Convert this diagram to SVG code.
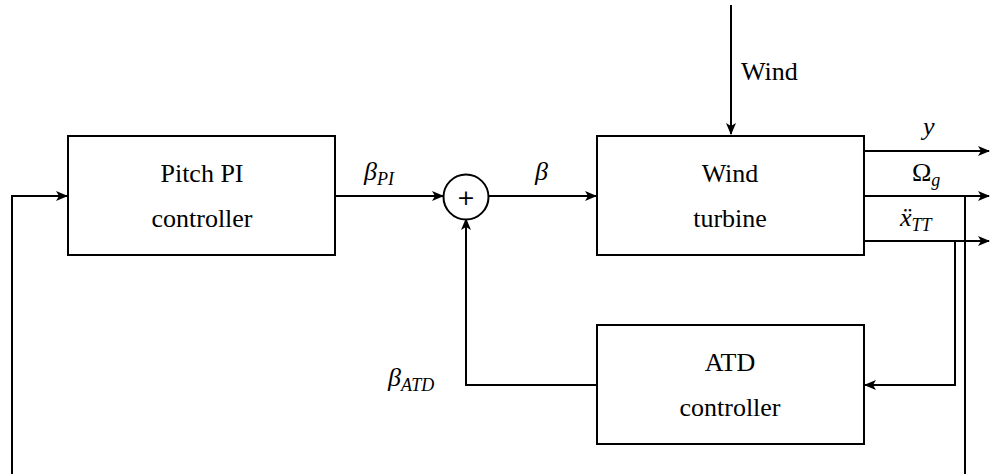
<svg xmlns="http://www.w3.org/2000/svg" width="990" height="474" viewBox="0 0 990 474">
<style>
text{font-family:"Liberation Serif","Times New Roman","DejaVu Serif",serif}
.box{fill:#fff;stroke:#000;stroke-width:2}
.ln{fill:none;stroke:#000;stroke-width:2}
.t{font-size:26px;fill:#000;text-anchor:middle}
.m{font-style:italic;font-size:26px;fill:#000}
.s{font-size:18px}
.plus{font-family:"DejaVu Sans",sans-serif;font-size:22px;text-anchor:middle}
</style>
<defs>
<marker id="ah" viewBox="0 0 12 10" refX="11" refY="5" markerWidth="12" markerHeight="10" markerUnits="userSpaceOnUse" orient="auto">
<path d="M0,0 L12,5 L0,10 L3,5 Z" fill="#000"/>
</marker>
</defs>
<rect width="990" height="474" fill="#fff"/>
<g id="connectors">
<path class="ln" d="M731,5 V134" marker-end="url(#ah)"/>
<path class="ln" d="M336,196 H443" marker-end="url(#ah)"/>
<path class="ln" d="M489,196 H596" marker-end="url(#ah)"/>
<path class="ln" d="M864,151 H989" marker-end="url(#ah)"/>
<path class="ln" d="M864,196 H989" marker-end="url(#ah)"/>
<path class="ln" d="M864,241 H989" marker-end="url(#ah)"/>
<path class="ln" d="M955,241 V385 H865" marker-end="url(#ah)"/>
<path class="ln" d="M597,385 H466 V219" marker-end="url(#ah)"/>
<path class="ln" d="M965,196 V490 H12 V196 H67" marker-end="url(#ah)"/>
</g>
<g id="pitch">
<rect class="box" x="68" y="136" width="267" height="119"/>
<text class="t" x="202" y="182">Pitch PI</text>
<text class="t" x="202" y="227">controller</text>
</g>
<g id="turbine">
<rect class="box" x="597" y="136" width="267" height="119"/>
<text class="t" x="730" y="182">Wind</text>
<text class="t" x="730" y="227">turbine</text>
</g>
<g id="atd">
<rect class="box" x="597" y="325" width="267" height="119"/>
<text class="t" x="730" y="371">ATD</text>
<text class="t" x="730" y="416">controller</text>
</g>
<g id="sum">
<circle cx="466" cy="197" r="22.5" fill="#fff" stroke="#000" stroke-width="2"/>
<text class="plus" x="466" y="205">+</text>
</g>
<g id="labels">
<text x="741" y="80" font-size="26">Wind</text>
<text class="m" x="364" y="180">β<tspan class="s" dy="5">PI</tspan></text>
<text class="m" x="535" y="180">β</text>
<text class="m" x="388" y="386">β<tspan class="s" dy="5">ATD</tspan></text>
<text class="m" x="923" y="135">y</text>
<text x="912" y="181" font-size="26">Ω<tspan class="m s" dy="5">g</tspan></text>
<text class="m" x="900" y="226">ẍ<tspan class="s" dy="5">TT</tspan></text>
</g>
</svg>
